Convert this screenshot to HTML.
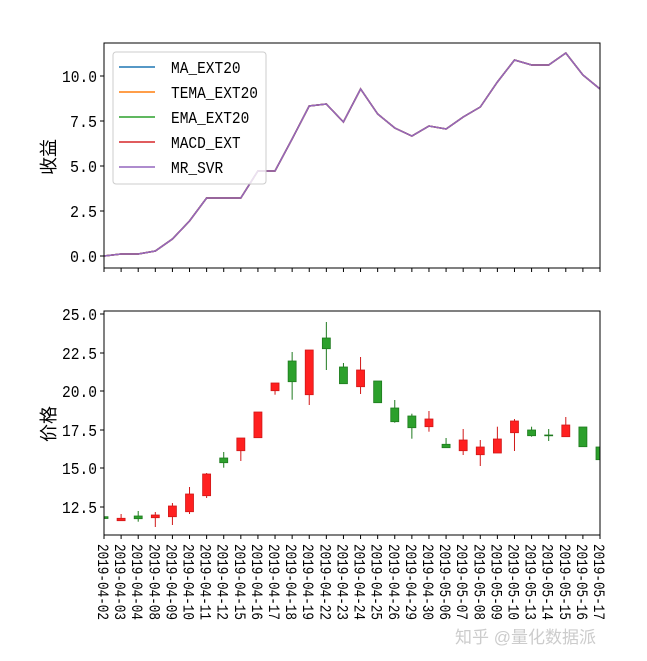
<!DOCTYPE html>
<html><head><meta charset="utf-8"><style>
html,body{margin:0;padding:0;background:#fff;}
svg{display:block;font-family:"Liberation Mono","WenQuanYi Zen Hei",monospace;}
</style></head><body>
<svg id="s" width="647" height="661" xmlns="http://www.w3.org/2000/svg">
<rect width="647" height="661" fill="#fff"/>
<g id="top"></g>
<g id="bot"></g>
<rect x="104" y="43" width="496" height="225" fill="none" stroke="#000" stroke-width="1"/>
<rect x="104" y="311" width="496" height="224" fill="none" stroke="#000" stroke-width="1"/>
<g font-size="17" text-anchor="end" fill="#000" lengthAdjust="spacingAndGlyphs">
<text x="97" y="82" textLength="35" lengthAdjust="spacingAndGlyphs">10.0</text>
<text x="97" y="127" textLength="27" lengthAdjust="spacingAndGlyphs">7.5</text>
<text x="97" y="172" textLength="27" lengthAdjust="spacingAndGlyphs">5.0</text>
<text x="97" y="217" textLength="27" lengthAdjust="spacingAndGlyphs">2.5</text>
<text x="97" y="262" textLength="27" lengthAdjust="spacingAndGlyphs">0.0</text>
<text x="97" y="320" textLength="35" lengthAdjust="spacingAndGlyphs">25.0</text>
<text x="97" y="359" textLength="35" lengthAdjust="spacingAndGlyphs">22.5</text>
<text x="97" y="397" textLength="35" lengthAdjust="spacingAndGlyphs">20.0</text>
<text x="97" y="436" textLength="35" lengthAdjust="spacingAndGlyphs">17.5</text>
<text x="97" y="474" textLength="35" lengthAdjust="spacingAndGlyphs">15.0</text>
<text x="97" y="513" textLength="35" lengthAdjust="spacingAndGlyphs">12.5</text>
</g>
<g stroke="#000" stroke-width="1">
<line x1="100" y1="76" x2="104" y2="76"/><line x1="100" y1="121" x2="104" y2="121"/>
<line x1="100" y1="166" x2="104" y2="166"/><line x1="100" y1="211" x2="104" y2="211"/>
<line x1="100" y1="256" x2="104" y2="256"/>
<line x1="100" y1="314" x2="104" y2="314"/><line x1="100" y1="353" x2="104" y2="353"/>
<line x1="100" y1="391" x2="104" y2="391"/><line x1="100" y1="430" x2="104" y2="430"/>
<line x1="100" y1="468" x2="104" y2="468"/><line x1="100" y1="507" x2="104" y2="507"/>
</g>
<text x="0" y="0" font-size="18" font-family="WenQuanYi Zen Hei,sans-serif" transform="translate(55,157) rotate(-90)" text-anchor="middle">收益</text>
<text x="0" y="0" font-size="18" font-family="WenQuanYi Zen Hei,sans-serif" transform="translate(55,424) rotate(-90)" text-anchor="middle">价格</text>
<g id="leg">
<rect x="113" y="52" width="153" height="132" rx="3" fill="#fff" fill-opacity="0.8" stroke="#ccc"/>
</g>
<text x="455" y="643" font-size="17" font-family="WenQuanYi Zen Hei,sans-serif" fill="#ccc">知乎 @量化数据派</text>
</svg>
<script>
var s='http://www.w3.org/2000/svg';
function el(p,t,a,txt){var e=document.createElementNS(s,t);for(var k in a)e.setAttribute(k,a[k]);if(txt)e.textContent=txt;document.getElementById(p).appendChild(e);return e;}
var dx=496/29;
var labels=['04-02','04-03','04-04','04-08','04-09','04-10','04-11','04-12','04-15','04-16','04-17','04-18','04-19','04-22','04-23','04-24','04-25','04-26','04-29','04-30','05-06','05-07','05-08','05-09','05-10','05-13','05-14','05-15','05-16','05-17'];
var ty=[256,254,254,251,239,221,198,198,198,171,171,139,106,104,122,89,114,128,136,126,129,117,107,82,60,65,65,53,75,89];
var pts=ty.map(function(y,i){return (104+i*dx).toFixed(1)+','+y;}).join(' ');
var cols=['#1f77b4','#ff7f0e','#2ca02c','#d62728','#9467bd'];
cols.forEach(function(c){el('top','polyline',{points:pts,fill:'none',stroke:c,'stroke-width':1.5});});
for(var i=0;i<30;i++){var x=104+i*dx;
el('top','line',{x1:x,y1:268,x2:x,y2:272,stroke:'#000'});
el('bot','line',{x1:x,y1:535,x2:x,y2:539,stroke:'#000'});
el('bot','text',{transform:'translate('+(x-6)+',544) rotate(90)','font-size':16,fill:'#000',textLength:76,lengthAdjust:'spacingAndGlyphs'},'2019-'+labels[i]);}
var c=[[516.7,518.5,515,520,'g'],[518.3,520.7,514,521,'r'],[516,518.7,511,521.7,'g'],[515,517.7,512,527,'r'],[506,516.7,503,525,'r'],[494,511.7,487,514,'r'],[474,495.7,473,498,'r'],[458,462.7,452,467.7,'g'],[438,450.7,438,461,'r'],[412,437.7,412,437.7,'r'],[383,390.7,383,394.7,'r'],[361,381.7,352,399.7,'g'],[350,394.7,350,405,'r'],[338,348.7,322,370,'g'],[367,383.7,363,383.7,'g'],[370,386.7,357,394,'r'],[381,402.7,381,402.7,'g'],[408,421.7,400,422.7,'g'],[416,427.7,413.7,438.7,'g'],[419,426.7,411,431.7,'r'],[444.3,447.7,438,447.7,'g'],[440,450.7,429,455,'r'],[447,454.7,440,466,'r'],[439,453,426.7,453,'r'],[421,432.7,419,451,'r'],[430,435.7,426.7,436.7,'g'],[435,435.6,429,441,'g'],[425,436.7,417,436.7,'r'],[427,446.7,427,446.7,'g'],[447,459.7,447,459.7,'g']];
var clip=el('bot','clipPath',{id:'cp'});var cr=document.createElementNS(s,'rect');cr.setAttribute('x',104);cr.setAttribute('y',311);cr.setAttribute('width',496);cr.setAttribute('height',224);clip.appendChild(cr);
var g=el('bot','g',{'clip-path':'url(#cp)'});
c.forEach(function(d,i){var x=104+i*dx;var col=d[4]=='g'?'#2ca02c':'#ff2020';var st=d[4]=='g'?'#1e7a1e':'#d01818';
var l=document.createElementNS(s,'line');l.setAttribute('x1',x);l.setAttribute('x2',x);l.setAttribute('y1',d[2]);l.setAttribute('y2',d[3]);l.setAttribute('stroke',st);g.appendChild(l);
var r=document.createElementNS(s,'rect');r.setAttribute('x',x-4);r.setAttribute('width',8);r.setAttribute('y',d[0]);r.setAttribute('height',Math.max(d[1]-d[0],0.8));r.setAttribute('fill',col);r.setAttribute('stroke',st);r.setAttribute('stroke-width',0.8);g.appendChild(r);});
var names=['MA_EXT20','TEMA_EXT20','EMA_EXT20','MACD_EXT','MR_SVR'];
names.forEach(function(n,i){var y=67+i*25;el('leg','line',{x1:119,x2:155,y1:y,y2:y,stroke:cols[i],'stroke-width':1.5});el('leg','text',{x:171,y:y+6,'font-size':17,fill:'#000',textLength:(n.length*8.7).toFixed(1),lengthAdjust:'spacingAndGlyphs'},n);});
</script>
</body></html>
